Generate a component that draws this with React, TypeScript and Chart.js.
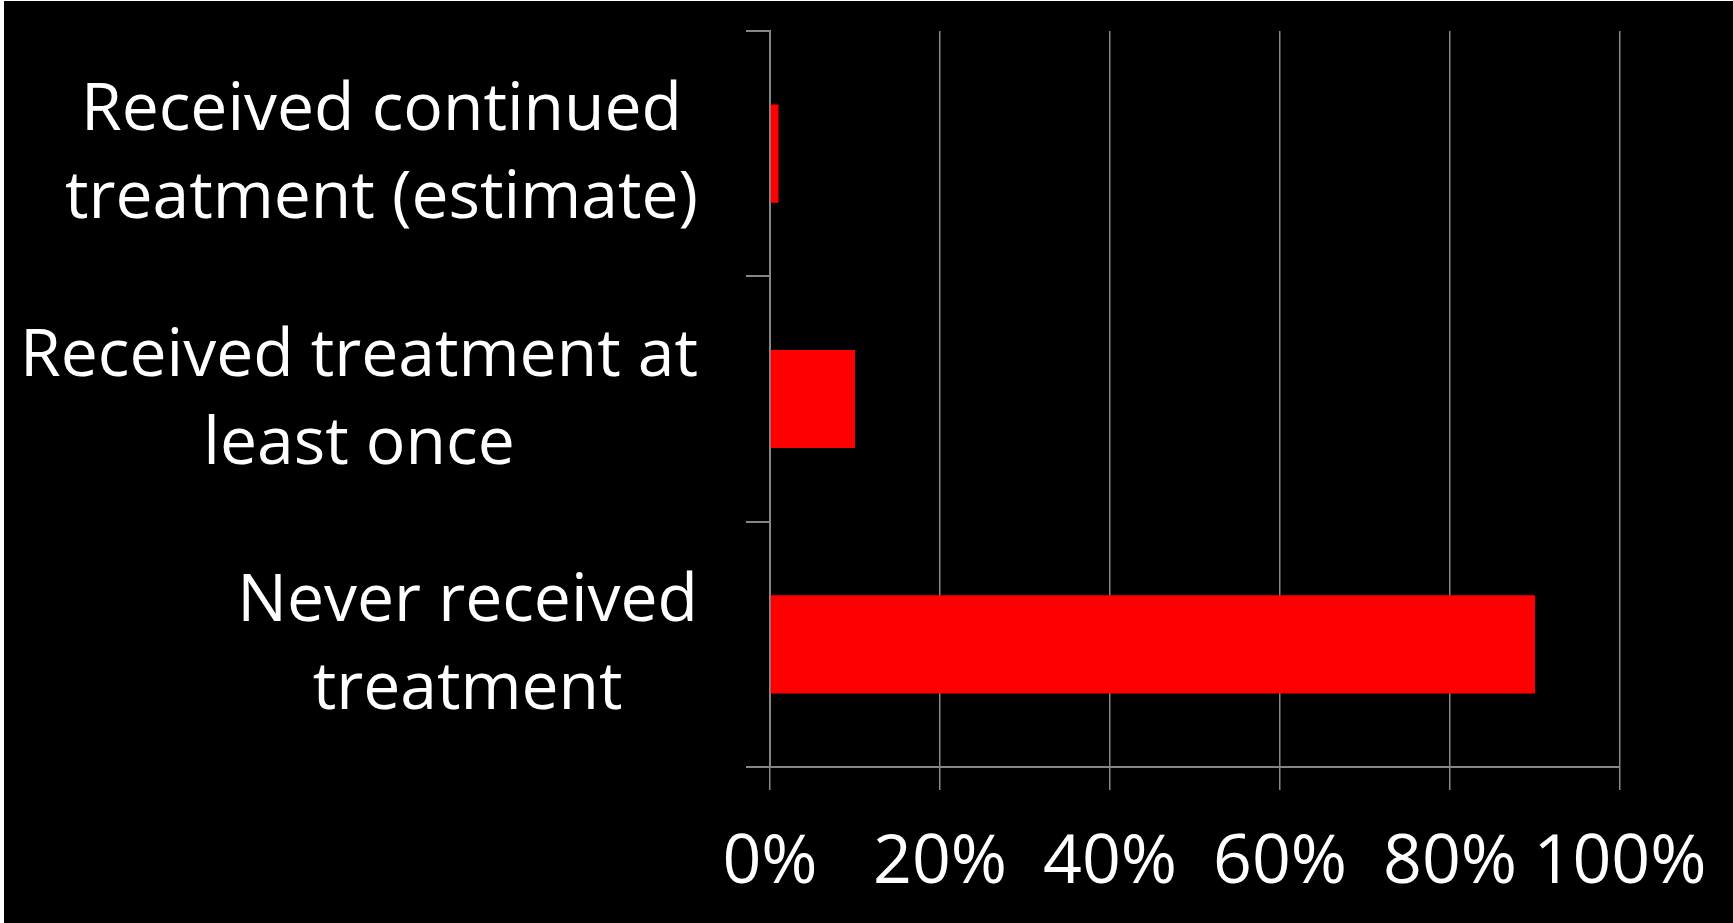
import React, { useEffect, useRef } from "react";
import { Chart, registerables } from "chart.js";

Chart.register(...registerables);

const categories: string[][] = [
  ["Received continued", "treatment (estimate)"],
  ["Received treatment at", "least once"],
  ["Never received", "treatment"],
];
const values: number[] = [1, 10, 90];
const xTickValues: number[] = [0, 20, 40, 60, 80, 100];

const FONT = '"Open Sans", "Lato", sans-serif';
const GRID = "#868686";

const yLabelPlugin = {
  id: "yLabelPlugin",
  afterDraw(chart: any) {
    const ys = chart.scales.y;
    const ctx = chart.ctx;
    ctx.save();
    ctx.font = `66px ${FONT}`;
    ctx.fillStyle = "#ffffff";
    ctx.textAlign = "center";
    ctx.textBaseline = "middle";
    const right = ys.right - 24 - 48;
    const lh = 88;
    categories.forEach((lines, i) => {
      const cy = ys.getPixelForValue(i);
      const maxW = Math.max(...lines.map((l) => ctx.measureText(l).width));
      const cx = right - maxW / 2;
      lines.forEach((l, j) => {
        const y = cy + (j - (lines.length - 1) / 2) * lh + 2;
        ctx.fillText(l, cx, y);
      });
    });
    ctx.restore();
  },
};

export default function App() {
  const ref = useRef<HTMLCanvasElement | null>(null);
  useEffect(() => {
    document.body.style.margin = "0";
    document.body.style.background = "#000";
    if (!ref.current) return;
    const chart = new Chart(ref.current, {
      type: "bar",
      data: {
        labels: categories,
        datasets: [
          {
            data: values,
            backgroundColor: "#FF0000",
            borderWidth: 0,
            barPercentage: 0.4,
            categoryPercentage: 1.0,
          },
        ],
      },
      options: {
        indexAxis: "y",
        animation: false,
        responsive: false,
        maintainAspectRatio: false,
        layout: { padding: { top: 31, right: 113, left: 0, bottom: 0 } },
        plugins: { legend: { display: false }, tooltip: { enabled: false } },
        scales: {
          x: {
            min: 0,
            max: 100,
            afterBuildTicks: (scale: any) => {
              scale.ticks = xTickValues.map((v) => ({ value: v }));
            },
            afterFit: (scale: any) => {
              scale.height = 156;
              scale.paddingLeft = 0;
              scale.paddingRight = 0;
            },
            ticks: {
              color: "#ffffff",
              font: { family: FONT, size: 68 },
              padding: 33,
              maxRotation: 0,
              autoSkip: false,
              callback: (v: any) => `${v}%`,
            },
            grid: {
              color: GRID,
              lineWidth: 1.5,
              drawTicks: true,
              tickLength: 23,
            },
            border: { color: GRID, width: 2 },
          },
          y: {
            afterFit: (scale: any) => {
              scale.width = 770;
              scale.paddingTop = 0;
              scale.paddingBottom = 0;
            },
            ticks: { display: false },
            grid: {
              color: GRID,
              lineWidth: 2,
              drawOnChartArea: false,
              drawTicks: true,
              tickLength: 24,
              offset: true,
            },
            border: { color: GRID, width: 2 },
          },
        },
      },
      plugins: [yLabelPlugin],
    });
    return () => chart.destroy();
  }, []);
  return (
    <div style={{ position: "relative", width: 1733, height: 923, background: "#000", overflow: "hidden" }}>
      <canvas ref={ref} width={1733} height={923} style={{ position: "absolute", left: 0, top: 0 }} />
      <div style={{ position: "absolute", left: 0, top: 0, width: 4, height: 923, background: "#fff" }} />
      <div style={{ position: "absolute", left: 0, top: 0, width: 1733, height: 1, background: "#fff" }} />
    </div>
  );
}
